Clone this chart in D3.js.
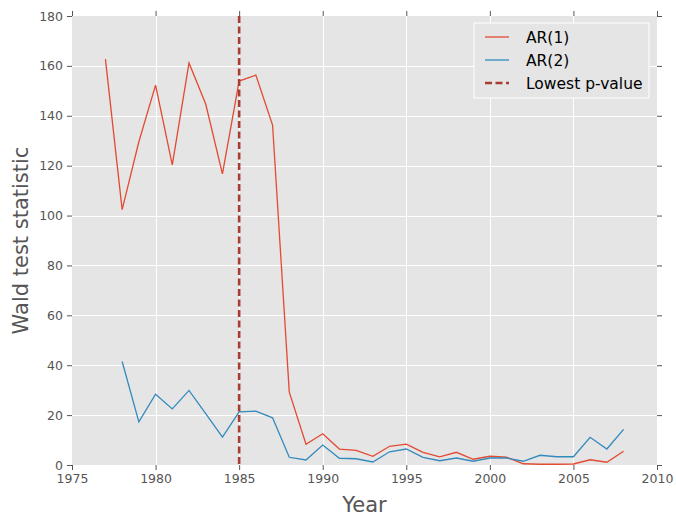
<!DOCTYPE html>
<html>
<head>
<meta charset="utf-8">
<script src="https://cdn.jsdelivr.net/npm/d3@7"></script>
<style>
  html, body { margin: 0; padding: 0; background: #fff; }
  svg { display: block; font-family: "DejaVu Sans", sans-serif; }
</style>
</head>
<body>
<svg id="chart" width="676" height="521"></svg>
<script>
// Wald test statistic per break year
const yearsAR1 = d3.range(1977, 2009);
const valuesAR1 = [162.7, 102.4, 129.6, 152.3, 120.3, 161.2, 144.7, 116.7, 153.9, 156.3,
  136.3, 29.2, 8.3, 12.5, 6.4, 5.9, 3.5, 7.5, 8.4, 5.1,
  3.3, 5.1, 2.3, 3.5, 3.1, 0.5, 0.3, 0.3, 0.4, 2.1,
  1.1, 5.5];
const yearsAR2 = d3.range(1978, 2009);
const valuesAR2 = [41.5, 17.3, 28.4, 22.5, 29.9, 20.6, 11.2, 21.3, 21.6, 18.9,
  3.1, 2.0, 8.0, 2.7, 2.5, 1.2, 5.3, 6.4, 3.1, 1.7,
  2.8, 1.5, 2.8, 2.8, 1.5, 3.9, 3.3, 3.3, 11.1, 6.4,
  14.3];
const lowestPYear = 1985;
const xTicks = [1975, 1980, 1985, 1990, 1995, 2000, 2005, 2010];
const yTicks = [0, 20, 40, 60, 80, 100, 120, 140, 160, 180];
const seriesNames = ["AR(1)", "AR(2)", "Lowest p-value"];

const margin = { left: 72, right: 19, top: 16, bottom: 56 };
const W = 676, H = 521;
const svg = d3.select("#chart");

const x = d3.scaleLinear().domain([1975, 2010]).range([margin.left, W - margin.right]);
const y = d3.scaleLinear().domain([0, 180]).range([H - margin.bottom, margin.top]);

// panel background
svg.append("rect")
  .attr("x", x(1975)).attr("y", y(180))
  .attr("width", x(2010) - x(1975)).attr("height", y(0) - y(180))
  .attr("fill", "#e5e5e5");

// grid
const grid = svg.append("g").attr("stroke", "#fff").attr("stroke-width", 1);
grid.selectAll(".gx").data(xTicks.slice(1, -1)).join("line")
  .attr("x1", d => Math.round(x(d)) + 0.5).attr("x2", d => Math.round(x(d)) + 0.5)
  .attr("y1", y(180)).attr("y2", y(0));
grid.selectAll(".gy").data(yTicks.slice(1, -1)).join("line")
  .attr("y1", d => Math.round(y(d)) + 0.5).attr("y2", d => Math.round(y(d)) + 0.5)
  .attr("x1", x(1975)).attr("x2", x(2010));

// axes
function styleAxis(g, showText) {
  g.select(".domain").remove();
  g.selectAll(".tick line").attr("stroke", "#555");
  g.selectAll(".tick text").attr("fill", "#555").style("font-size", "12.5px")
    .style("font-family", "DejaVu Sans, sans-serif");
  if (!showText) g.selectAll(".tick text").remove();
}
svg.append("g").attr("transform", `translate(0,${y(0)})`)
  .call(d3.axisBottom(x).tickValues(xTicks).tickFormat(d3.format("d")).tickSize(5).tickPadding(4))
  .call(g => styleAxis(g, true));
svg.append("g").attr("transform", `translate(0,${y(180)})`)
  .call(d3.axisTop(x).tickValues(xTicks).tickSize(5))
  .call(g => styleAxis(g, false));
svg.append("g").attr("transform", `translate(${x(1975)},0)`)
  .call(d3.axisLeft(y).tickValues(yTicks).tickSize(5).tickPadding(4))
  .call(g => styleAxis(g, true));
svg.append("g").attr("transform", `translate(${x(2010)},0)`)
  .call(d3.axisRight(y).tickValues(yTicks).tickSize(5))
  .call(g => styleAxis(g, false));

// axis titles
svg.append("text")
  .attr("x", (x(1975) + x(2010)) / 2).attr("y", 512)
  .attr("text-anchor", "middle").attr("fill", "#555").style("font-size", "21px")
  .text("Year");
svg.append("text")
  .attr("transform", `translate(28,${(y(0) + y(180)) / 2}) rotate(-90)`)
  .attr("text-anchor", "middle").attr("fill", "#555").style("font-size", "21px")
  .text("Wald test statistic");

// series lines
const line = d3.line().x(d => x(d[0])).y(d => y(d[1]));
svg.append("path")
  .datum(d3.zip(yearsAR1, valuesAR1))
  .attr("d", line).attr("fill", "none").attr("stroke", "#E24A33").attr("stroke-width", 1.3);
svg.append("path")
  .datum(d3.zip(yearsAR2, valuesAR2))
  .attr("d", line).attr("fill", "none").attr("stroke", "#348ABD").attr("stroke-width", 1.3);

// break year marker
svg.append("line")
  .attr("x1", x(lowestPYear)).attr("x2", x(lowestPYear))
  .attr("y1", y(180)).attr("y2", y(0))
  .attr("stroke", "#A83D33").attr("stroke-width", 2.6)
  .attr("stroke-dasharray", "7,3.5");

// legend
const lg = svg.append("g").attr("transform", "translate(474,23)");
lg.append("rect").attr("x", 0).attr("y", 0).attr("width", 175).attr("height", 75)
  .attr("fill", "#e5e5e5").attr("stroke", "#fff").attr("stroke-width", 1);
const legendItems = [
  { name: seriesNames[0], color: "#E24A33", dash: null, w: 1.3 },
  { name: seriesNames[1], color: "#348ABD", dash: null, w: 1.3 },
  { name: seriesNames[2], color: "#A83D33", dash: "7,3.5", w: 2.6 }
];
legendItems.forEach((it, i) => {
  const cy = 14 + i * 23;
  lg.append("line").attr("x1", 11).attr("x2", 35).attr("y1", cy).attr("y2", cy)
    .attr("stroke", it.color).attr("stroke-width", it.w)
    .attr("stroke-dasharray", it.dash);
  lg.append("text").attr("x", 52).attr("y", cy + 5.5)
    .attr("fill", "#000").style("font-size", "15.5px").text(it.name);
});
</script>
</body>
</html>
